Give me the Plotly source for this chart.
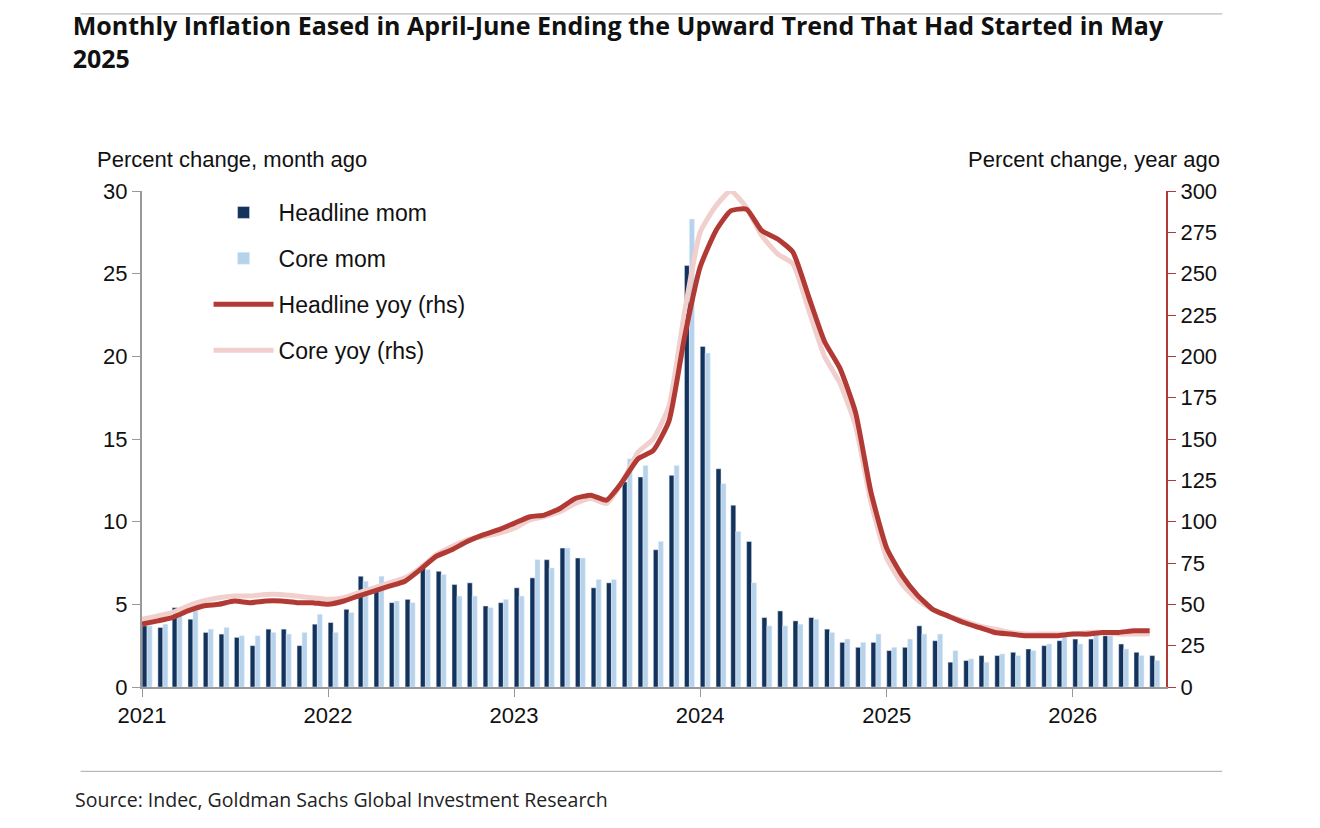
import plotly.graph_objects as go
import pandas as pd

months = pd.date_range("2021-01-01", "2026-06-01", freq="MS")
bar_x = months + pd.Timedelta(days=10)

headline_mom = [3.7, 3.6, 4.8, 4.1, 3.3, 3.2, 3.0, 2.5, 3.5, 3.5, 2.5, 3.8,
                3.9, 4.7, 6.7, 6.0, 5.1, 5.3, 7.4, 7.0, 6.2, 6.3, 4.9, 5.1,
                6.0, 6.6, 7.7, 8.4, 7.8, 6.0, 6.3, 12.4, 12.7, 8.3, 12.8, 25.5,
                20.6, 13.2, 11.0, 8.8, 4.2, 4.6, 4.0, 4.2, 3.5, 2.7, 2.4, 2.7,
                2.2, 2.4, 3.7, 2.8, 1.5, 1.6, 1.9, 1.9, 2.1, 2.3, 2.5, 2.8,
                2.9, 2.9, 3.1, 2.6, 2.1, 1.9]
core_mom = [3.7, 3.8, 4.3, 4.6, 3.5, 3.6, 3.1, 3.1, 3.3, 3.2, 3.3, 4.4,
            3.3, 4.5, 6.4, 6.7, 5.2, 5.1, 7.1, 6.8, 5.5, 5.5, 4.8, 5.3,
            5.5, 7.7, 7.2, 8.4, 7.8, 6.5, 6.5, 13.8, 13.4, 8.8, 13.4, 28.3,
            20.2, 12.3, 9.4, 6.3, 3.7, 3.7, 3.8, 4.1, 3.3, 2.9, 2.7, 3.2,
            2.4, 2.9, 3.2, 3.2, 2.2, 1.7, 1.5, 2.0, 1.9, 2.2, 2.6, 3.0,
            2.6, 3.1, 3.1, 2.3, 1.9, 1.6]
headline_yoy = [38, 40, 42, 46, 49, 50, 52, 51, 52, 52, 51, 51,
                50, 52, 55, 58, 61, 64, 71, 79, 83, 88, 92, 95,
                99, 103, 104, 108, 114, 116, 113, 124, 138, 143, 161, 211,
                254, 276, 288, 289, 276, 271, 263, 236, 209, 193, 166, 118,
                84, 67, 56, 47, 43, 39, 36, 33, 32, 31, 31, 31,
                32, 32, 33, 33, 34, 34]
core_yoy = [41, 43, 45, 49, 52, 54, 55, 55, 56, 56, 55, 54,
            53, 54, 57, 60, 63, 66, 72, 80, 85, 89, 91, 93,
            96, 101, 103, 106, 111, 114, 111, 124, 142, 150, 170, 226,
            275, 291, 300, 290, 273, 262, 256, 228, 200, 184, 158, 112,
            78, 62, 53, 47, 43, 40, 37, 35, 33, 32, 32, 32,
            32, 33, 33, 32, 32, 32]

navy = "#14335c"
light = "#b7d3ec"
red = "#b23a34"
pink = "#f1cfcd"
axis_font = dict(family="Liberation Sans, Arial", size=22, color="#111")

fig = go.Figure()
fig.add_trace(go.Bar(x=bar_x, y=headline_mom, name="Headline mom", marker_color=navy,
                     legendrank=1, legendgroup="a"))
fig.add_trace(go.Bar(x=bar_x, y=core_mom, name="Core mom", marker_color=light,
                     legendrank=2, legendgroup="b"))
# core line first so headline is drawn on top
fig.add_trace(go.Scatter(x=months, y=core_yoy, name="Core yoy (rhs)", yaxis="y2",
                         mode="lines", legendrank=4, legendgroup="d",
                         line=dict(color=pink, width=5, shape="spline", smoothing=0.5)))
fig.add_trace(go.Scatter(x=months, y=headline_yoy, name="Headline yoy (rhs)", yaxis="y2",
                         mode="lines", legendrank=3, legendgroup="c",
                         line=dict(color=red, width=5, shape="spline", smoothing=0.5)))

fig.update_layout(
    width=1320, height=828,
    paper_bgcolor="white", plot_bgcolor="white",
    margin=dict(l=134, r=162, t=183, b=149),
    barmode="group", bargap=0.3, bargroupgap=0,
    font=axis_font,
    showlegend=True,
    legend=dict(x=0.065, y=1.0, xanchor="left", yanchor="top", traceorder="grouped",
                font=dict(family="Liberation Sans, Arial", size=23, color="#111"),
                bgcolor="rgba(0,0,0,0)", tracegroupgap=13, itemwidth=60),
    xaxis=dict(type="date", range=["2021-01-01", "2026-07-03"], tickformat="%Y",
               dtick="M12", tick0="2021-01-01", ticks="outside", ticklen=8,
               tickcolor="#999", showline=True, linecolor="#999", linewidth=2,
               showgrid=False, tickfont=axis_font),
    yaxis=dict(range=[0, 30], dtick=5, ticks="outside", ticklen=8, tickcolor="#999",
               showline=True, linecolor="#999", linewidth=2, showgrid=False,
               zeroline=False, tickfont=axis_font),
    yaxis2=dict(range=[0, 300], dtick=25, overlaying="y", side="right", ticks="outside",
                ticklen=8, tickcolor=red, showline=True, linecolor=red, linewidth=2,
                showgrid=False, zeroline=False, tickfont=axis_font),
    title=dict(text="<b>Monthly Inflation Eased in April-June Ending the Upward Trend That Had Started in May<br>2025</b>",
               x=0.049, xanchor="left", y=0.967, yanchor="top",
               font=dict(family="Open Sans", size=25, color="#111")),
    shapes=[
        dict(type="line", xref="paper", yref="paper", x0=-0.06, x1=1.055, y0=1.357, y1=1.357,
             line=dict(color="#aaa", width=1)),
        dict(type="line", xref="paper", yref="paper", x0=-0.06, x1=1.055, y0=-0.17, y1=-0.17,
             line=dict(color="#aaa", width=1)),
    ],
    annotations=[
        dict(text="Percent change, month ago", xref="paper", yref="paper", x=-0.046, y=1.035,
             xanchor="left", yanchor="bottom", showarrow=False, font=axis_font),
        dict(text="Percent change, year ago", xref="paper", yref="paper", x=1.055, y=1.035,
             xanchor="right", yanchor="bottom", showarrow=False, font=axis_font),
        dict(text="Source: Indec, Goldman Sachs Global Investment Research", xref="paper",
             yref="paper", x=-0.067, y=-0.195, xanchor="left", yanchor="top", showarrow=False,
             font=dict(family="Open Sans", size=19.5, color="#222")),
    ],
)

fig.write_html("out.html")
